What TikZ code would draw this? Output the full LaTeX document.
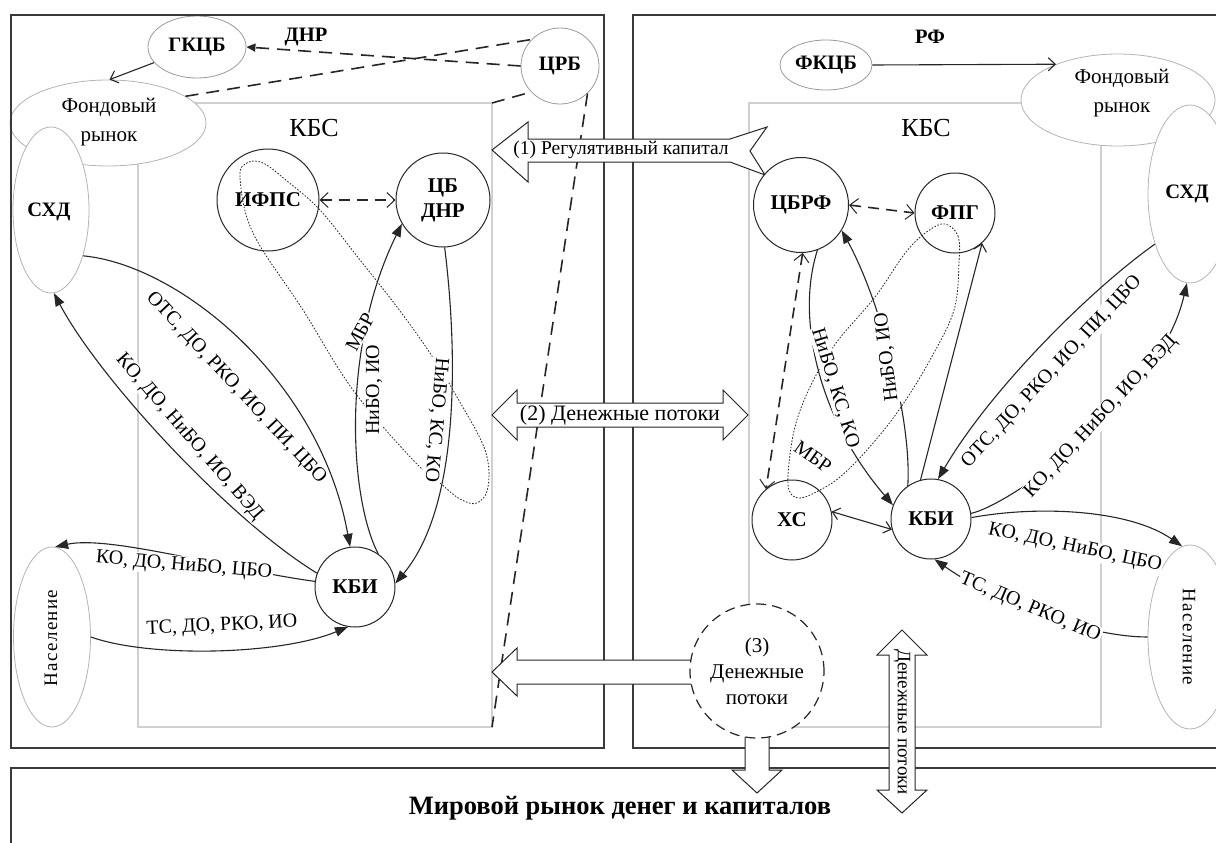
\documentclass[tikz,border=0pt]{standalone}
\usepackage{fontspec}
\setmainfont{Liberation Serif}
\newfontfamily\trackedfont[LetterSpace=7]{Liberation Serif}
\usetikzlibrary{arrows.meta,shapes.geometric}

\definecolor{ink}{HTML}{262626}
\definecolor{frameink}{HTML}{3A3A3A}
\definecolor{boxgray}{HTML}{D0D0D0}
\definecolor{softgray}{HTML}{B4B4B4}
\definecolor{midgray}{HTML}{9A9A9A}

\tikzset{
  every node/.style={font=\fontsize{19}{21}\selectfont},
  agent/.style={circle, draw=ink, line width=1pt, fill=white, inner sep=0pt,
    font=\fontsize{21}{25}\selectfont\bfseries},
  market/.style={ellipse, draw=softgray, line width=0.8pt, fill=white, inner sep=0pt},
  regulator/.style={ellipse, draw=midgray, line width=0.8pt, fill=white, inner sep=0pt,
    font=\fontsize{20.5}{22}\selectfont\bfseries},
  flow/.style={draw=ink, line width=1.1pt, -{Triangle[length=13pt,width=9.5pt]}},
  openflow/.style={draw=ink, line width=1.1pt, -{Straight Barb[length=7pt,width=13pt]}},
  dualopen/.style={draw=ink, line width=1.1pt,
    {Straight Barb[length=7pt,width=12pt]}-{Straight Barb[length=7pt,width=12pt]}},
  dualdash/.style={draw=ink, line width=1.6pt, dash pattern=on 11pt off 7pt,
    {Straight Barb[length=8pt,width=15pt,line width=1pt]}-{Straight Barb[length=8pt,width=15pt,line width=1pt]}},
  regdash/.style={draw=ink, line width=1.6pt, dash pattern=on 13pt off 8pt},
  dotloop/.style={draw=ink, line width=0.8pt, dash pattern=on 1.6pt off 1.6pt},
  lbl/.style={fill=white, inner sep=1pt, font=\fontsize{20}{22}\selectfont},
  outerframe/.style={draw=frameink, line width=1.6pt},
  sectorbox/.style={draw=boxgray, line width=2pt},
  blockarrow/.style={draw=ink, line width=1pt, fill=white, line join=miter},
  heading/.style={font=\fontsize{20.5}{22}\selectfont\bfseries},
  markettext/.style={align=center, font=\fontsize{21}{29}\selectfont},
}

\begin{document}
\begin{tikzpicture}[x=1pt,y=-1pt]
\useasboundingbox (0,0) rectangle (1216,843);
\fill[white] (0,0) rectangle (1216,843);
\clip (0,0) rectangle (1216,843);

% ---- banking-system boxes (КБС)
\draw[sectorbox] (138,103) rectangle (492,727);
\draw[sectorbox] (749,103) rectangle (1101,727);
\coordinate (boxLne) at (492,103);
\coordinate (boxLse) at (492,727);

% ---- markets, population and regulators
\node[market, minimum width=196pt, minimum height=86pt] (fondL) at (108,123) {};
\node[market, minimum width=76pt, minimum height=166pt] (shdL) at (51,210) {};
\node[market, minimum width=77pt, minimum height=180pt] (naselL) at (52,637) {};
\node[market, minimum width=194pt, minimum height=92pt] (fondR) at (1118,100) {};
\node[market, minimum width=84pt, minimum height=178pt] (shdR) at (1190,194) {};
\node[market, minimum width=84pt, minimum height=184pt] (naselR) at (1190,637) {};
\node[regulator, minimum width=98pt, minimum height=62pt] (gkcb) at (197,47) {ГКЦБ};
\node[regulator, minimum width=78pt, minimum height=76pt] (crb) at (560,66) {ЦРБ};
\node[regulator, minimum width=92pt, minimum height=50pt] (fkcb) at (826,65) {ФКЦБ};

\node[markettext] (fondLtxt) at (109,122) {Фондовый\\рынок};
\node[heading] (shdLtxt) at (49,212) {СХД};
\node[rotate=90, font=\trackedfont\fontsize{19}{21}\selectfont] (naselLtxt) at (51,638) {Население};
\node[markettext] (fondRtxt) at (1122,93) {Фондовый\\рынок};
\node[heading] (shdRtxt) at (1187,194) {СХД};
\node[rotate=-90, font=\trackedfont\fontsize{19}{21}\selectfont] (naselRtxt) at (1189,637) {Население};

% ---- regulator links of the central bank
\draw[regdash, -{Triangle[length=9pt,width=8pt]}] (crb.west) -- (gkcb.east);
\draw[regdash] (fondL.19) -- (crb.137);
\draw[regdash] (boxLne) -- (crb.222);
\draw[regdash] (crb.-45) -- (boxLse);
\draw[openflow] (gkcb.200) -- (fondL.88);
\draw[openflow] (fkcb.east) -- (fondR.150);

% ---- country frames and world market
\draw[outerframe] (11,15) rectangle (604,748);
\draw[outerframe] (633,15) rectangle (1240,748);
\draw[outerframe] (11,768) rectangle (1240,880);

\node[heading] (dnr) at (306,37) {ДНР};
\node[heading] (rf) at (930,37) {РФ};
\node[font=\fontsize{26}{28}\selectfont] (kbsL) at (314,128) {КБС};
\node[font=\fontsize{26}{28}\selectfont] (kbsR) at (926,128) {КБС};
\node[font=\fontsize{26.5}{28}\selectfont\bfseries] (world) at (620,808) {Мировой рынок денег и капиталов};

% ---- block arrows between the systems
\draw[blockarrow] (492,150) -- (528,122) -- (528,139) -- (730,139) -- (767,127)
  -- (750,151) -- (765,175) -- (730,162) -- (528,162) -- (528,182) -- cycle;
\node[font=\fontsize{19.5}{21}\selectfont] (regcap) at (621,150) {(1) Регулятивный капитал};
\draw[blockarrow] (492,415) -- (517,390) -- (517,403) -- (723,403) -- (723,390)
  -- (748,415) -- (723,440) -- (723,427) -- (517,427) -- (517,440) -- cycle;
\node[font=\fontsize{22}{24}\selectfont] (money2) at (620,415) {(2) Денежные потоки};
\draw[blockarrow] (700,660) -- (517,660) -- (517,648) -- (492,672) -- (517,696)
  -- (517,684) -- (700,684) -- cycle;
\draw[blockarrow] (745,720) -- (745,770) -- (732,770) -- (757,793) -- (782,770)
  -- (769,770) -- (769,720) -- cycle;
\draw[blockarrow] (902,630) -- (927,655) -- (915,655) -- (915,790) -- (927,790)
  -- (902,813) -- (877,790) -- (889,790) -- (889,655) -- (877,655) -- cycle;
\node[rotate=-90] (vflow) at (902,722) {Денежные потоки};

% ---- institutions
\node[agent, minimum size=102pt] (ifps) at (268,200) {ИФПС};
\node[agent, minimum size=94pt, align=center] (cbdnr) at (443,200) {ЦБ\\ДНР};
\node[agent, minimum size=80pt] (kbiL) at (355,587) {КБИ};
\node[agent, minimum size=95pt] (cbrf) at (801,205) {ЦБРФ};
\node[agent, minimum size=80pt] (fpg) at (955,213) {ФПГ};
\node[agent, minimum size=80pt] (hs) at (792,520) {ХС};
\node[agent, minimum size=80pt] (kbiR) at (931,519) {КБИ};
\node[agent, minimum size=134pt, dash pattern=on 10pt off 6pt, line width=1.2pt,
  align=center, font=\fontsize{21}{26}\selectfont] (mflow) at (757,671) {(3)\\Денежные\\потоки};

% ---- flows, left system
\draw[dualdash] (ifps.east) -- (cbdnr.west);
\draw[flow] (shdL.-55) .. controls (180,265) and (320,380) .. (kbiL.97);
\draw[flow] (kbiL.160) .. controls (230,520) and (100,380) .. (shdL.-88);
\draw[flow] (kbiL.172) .. controls (230,570) and (110,535) .. (naselL.88);
\draw[flow] (naselL.east) .. controls (150,658) and (280,655) .. (kbiL.-100);
\draw[flow] (kbiL.55) .. controls (350,500) and (340,350) .. (cbdnr.210);
\draw[flow] (cbdnr.-88) .. controls (455,330) and (465,500) .. (kbiL.5);
\draw[dotloop] plot[smooth cycle, tension=0.6] coordinates {
  (247,163) (240,178) (253,233) (303,310) (353,390) (413,460) (440,483)
  (460,499) (477,503) (488,487) (485,450) (457,397) (430,353) (397,307)
  (360,260) (320,210) (287,181) (263,163)};

% ---- flows, right system
\draw[dualdash] (cbrf.east) -- (fpg.west);
\draw[dualdash] (cbrf.-88) -- (hs.130);
\draw[flow] (cbrf.-70) .. controls (795,320) and (820,420) .. (kbiR.160);
\draw[flow] (kbiR.125) .. controls (912,420) and (880,300) .. (cbrf.-32);
\draw[openflow] (kbiR.105) -- (fpg.-48);
\draw[dualopen] (hs.12) -- (kbiR.195);
\draw[flow] (shdR.235) .. controls (1090,290) and (990,390) .. (kbiR.80);
\draw[flow] (kbiR.8) .. controls (1010,505) and (1160,400) .. (shdR.-92);
\draw[flow] (kbiR.2) .. controls (1040,505) and (1130,510) .. (naselR.95);
\draw[flow] (naselR.west) .. controls (1090,637) and (1000,605) .. (kbiR.-85);
\draw[dotloop] plot[smooth cycle, tension=0.6] coordinates {
  (945,224) (958,236) (959,262) (954,310) (930,360) (899,410) (867,450)
  (840,477) (820,490) (800,498) (789,490) (789,463) (796,423) (812,383)
  (836,343) (875,297) (906,252) (928,231)};

% ---- flow labels
\node[lbl, rotate=-47] (tL1) at (236,388) {ОТС, ДО, РКО, ИО, ПИ, ЦБО};
\node[lbl, rotate=-49] (tL2) at (189,437) {КО, ДО, НиБО, ИО, ВЭД};
\node[lbl, rotate=-5] (tL3) at (184,566) {КО, ДО, НиБО, ЦБО};
\node[lbl, rotate=3] (tL4) at (222,626) {ТС, ДО, РКО, ИО};
\node[lbl, rotate=62] (tL5) at (360,332) {МБР};
\node[lbl, rotate=90] (tL6) at (374,390) {НиБО, ИО};
\node[lbl, rotate=-95] (tL7) at (436,420) {НиБО, КС, КО};
\node[lbl, rotate=-73] (tR1) at (835,388) {НиБО, КС, КО};
\node[lbl, rotate=97] (tR2) at (887,357) {НиБО, ИО};
\node[lbl, rotate=-35] (tR3) at (813,457) {МБР};
\node[lbl, rotate=47] (tR4) at (1052,372) {ОТС, ДО, РКО, ИО, ПИ, ЦБО};
\node[lbl, rotate=47] (tR5) at (1101,417) {КО, ДО, НиБО, ИО, ВЭД};
\node[lbl, rotate=-12] (tR6) at (1075,548) {КО, ДО, НиБО, ЦБО};
\node[lbl, rotate=-23] (tR7) at (1030,608) {ТС, ДО, РКО, ИО};
\end{tikzpicture}
\end{document}
